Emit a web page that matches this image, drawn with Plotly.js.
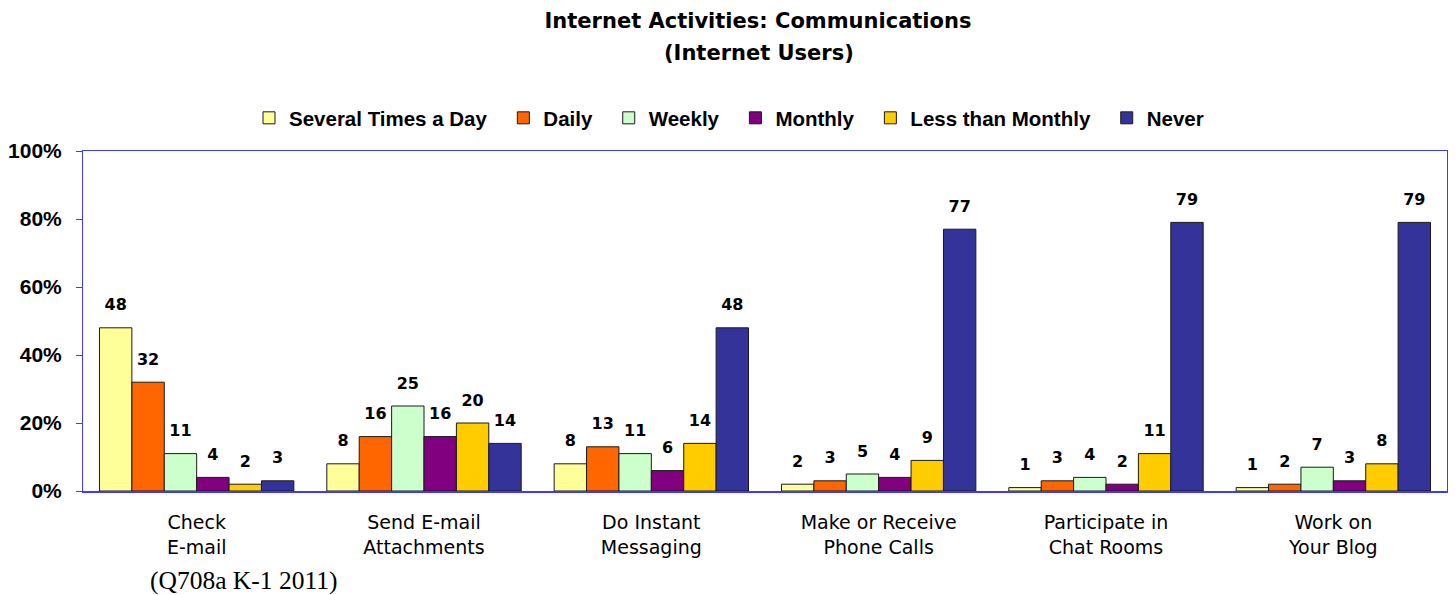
<!DOCTYPE html>
<html>
<head>
<meta charset="utf-8">
<script src="https://cdn.plot.ly/plotly-3.0.1.min.js"></script>
<style>html,body{margin:0;padding:0;background:#fff;}#chart{width:1455px;height:595px;}</style>
</head>
<body>
<div id="chart"></div>
<script>
const categories = ["Check<br>E-mail", "Send E-mail<br>Attachments", "Do Instant<br>Messaging", "Make or Receive<br>Phone Calls", "Participate in<br>Chat Rooms", "Work on<br>Your Blog"];
const seriesNames = ["Several Times a Day", "Daily", "Weekly", "Monthly", "Less than Monthly", "Never"];
const severalTimesADay = [48, 8, 8, 2, 1, 1];
const daily = [32, 16, 13, 3, 3, 2];
const weekly = [11, 25, 11, 5, 4, 7];
const monthly = [4, 16, 6, 4, 2, 3];
const lessThanMonthly = [2, 20, 14, 9, 11, 8];
const never = [3, 14, 48, 77, 79, 79];
const yTicks = [0, 20, 40, 60, 80, 100];
const footnote = "(Q708a K-1 2011)";

const seriesValues = [severalTimesADay, daily, weekly, monthly, lessThanMonthly, never];
const colors = ["#FFFF99", "#FF6600", "#CCFFCC", "#800080", "#FFCC00", "#333399"];
const GAP = 0.145;

const traces = [];
seriesValues.forEach((vals, i) => {
  traces.push({
    type: 'bar', name: seriesNames[i] + '\u00a0\u00a0', x: categories, y: vals,
    marker: {color: colors[i], line: {color: '#1a1a1a', width: 1}},
    alignmentgroup: 'g', offsetgroup: 'o' + i,
    hoverinfo: 'skip'
  });
});
seriesValues.forEach((vals, i) => {
  traces.push({
    type: 'scatter', mode: 'markers+text', x: categories, y: vals,
    text: vals.map(String), textposition: 'top center',
    textfont: {family: 'DejaVu Sans', size: 16, color: '#000', weight: 'bold'},
    marker: {size: 20, opacity: 0},
    alignmentgroup: 'g', offsetgroup: 'o' + i,
    showlegend: false, cliponaxis: false, hoverinfo: 'skip'
  });
});

const blue = '#3b3bff';
const layout = {
  width: 1455, height: 595,
  margin: {l: 83, r: 8, t: 151, b: 104},
  paper_bgcolor: '#fff', plot_bgcolor: '#fff',
  barmode: 'group', bargap: GAP, bargroupgap: 0,
  scattermode: 'group', scattergap: GAP,
  showlegend: true,
  title: {
    text: 'Internet Activities: Communications',
    font: {family: 'DejaVu Sans', size: 21, color: '#000', weight: 'bold'},
    x: 758 / 1455, xanchor: 'center', xref: 'container',
    y: 1 - 21 / 595, yanchor: 'middle', yref: 'container'
  },
  legend: {
    orientation: 'h', xref: 'container', yref: 'container',
    x: 735 / 1455, xanchor: 'center', y: 1 - 118 / 595, yanchor: 'middle',
    font: {family: 'Liberation Sans', size: 20.5, color: '#000', weight: 'bold'},
    traceorder: 'normal'
  },
  xaxis: {
    type: 'category', showline: true, linecolor: blue, linewidth: 1.5, mirror: true,
    ticks: '', showgrid: false, ticklabelstandoff: 14,
    tickfont: {family: 'DejaVu Sans', size: 19, color: '#000'}
  },
  yaxis: {
    range: [0, 100], tickvals: yTicks, ticktext: yTicks.map(v => v + '%'),
    showline: true, linecolor: blue, linewidth: 1, mirror: true,
    ticks: 'outside', ticklen: 6, tickcolor: blue, showgrid: false, zeroline: false,
    ticklabelstandoff: 10,
    tickfont: {family: 'Liberation Sans', size: 21, color: '#000', weight: 'bold'}
  },
  annotations: [
    {text: '(Internet Users)', xref: 'paper', yref: 'paper', x: (759 - 83) / 1364, y: (491 - 53) / 340,
     xanchor: 'center', yanchor: 'middle', showarrow: false,
     font: {family: 'DejaVu Sans', size: 21, color: '#000', weight: 'bold'}},
    {text: footnote, xref: 'paper', yref: 'paper', x: (148 - 83) / 1364, y: -(580 - 491) / 340,
     xanchor: 'left', yanchor: 'middle', showarrow: false,
     font: {family: 'Liberation Serif', size: 25.5, color: '#000'}}
  ]
};
Plotly.newPlot('chart', traces, layout, {displayModeBar: false, staticPlot: true});
</script>
</body>
</html>
